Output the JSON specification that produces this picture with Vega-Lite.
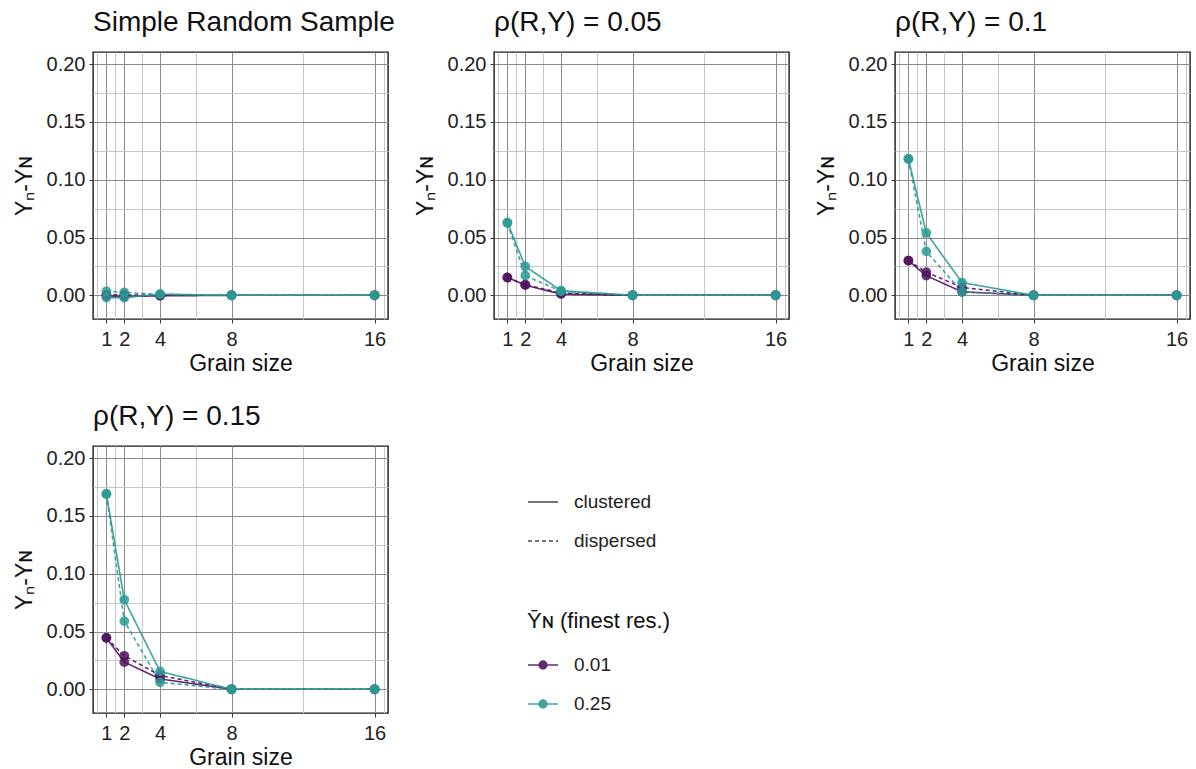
{
"$schema": "https://vega.github.io/schema/vega-lite/v6.json",
"padding": {"left": 12, "top": 8, "right": 0, "bottom": 0},
"background": "white",
"data": {"values": [
{"panel":"SRS","grain":1,"ybar":"0.01","pattern":"clustered","value":-0.0005},
{"panel":"SRS","grain":2,"ybar":"0.01","pattern":"clustered","value":-0.001},
{"panel":"SRS","grain":4,"ybar":"0.01","pattern":"clustered","value":-0.0005},
{"panel":"SRS","grain":8,"ybar":"0.01","pattern":"clustered","value":0},
{"panel":"SRS","grain":16,"ybar":"0.01","pattern":"clustered","value":0},
{"panel":"SRS","grain":1,"ybar":"0.01","pattern":"dispersed","value":0.0005},
{"panel":"SRS","grain":2,"ybar":"0.01","pattern":"dispersed","value":0.0003},
{"panel":"SRS","grain":4,"ybar":"0.01","pattern":"dispersed","value":0.0002},
{"panel":"SRS","grain":8,"ybar":"0.01","pattern":"dispersed","value":0},
{"panel":"SRS","grain":16,"ybar":"0.01","pattern":"dispersed","value":0},
{"panel":"SRS","grain":1,"ybar":"0.25","pattern":"clustered","value":-0.002},
{"panel":"SRS","grain":2,"ybar":"0.25","pattern":"clustered","value":-0.002},
{"panel":"SRS","grain":4,"ybar":"0.25","pattern":"clustered","value":0.001},
{"panel":"SRS","grain":8,"ybar":"0.25","pattern":"clustered","value":0},
{"panel":"SRS","grain":16,"ybar":"0.25","pattern":"clustered","value":0},
{"panel":"SRS","grain":1,"ybar":"0.25","pattern":"dispersed","value":0.0035},
{"panel":"SRS","grain":2,"ybar":"0.25","pattern":"dispersed","value":0.0025},
{"panel":"SRS","grain":4,"ybar":"0.25","pattern":"dispersed","value":0.0008},
{"panel":"SRS","grain":8,"ybar":"0.25","pattern":"dispersed","value":0},
{"panel":"SRS","grain":16,"ybar":"0.25","pattern":"dispersed","value":0},

{"panel":"r05","grain":1,"ybar":"0.01","pattern":"clustered","value":0.0155},
{"panel":"r05","grain":2,"ybar":"0.01","pattern":"clustered","value":0.0088},
{"panel":"r05","grain":4,"ybar":"0.01","pattern":"clustered","value":0.001},
{"panel":"r05","grain":8,"ybar":"0.01","pattern":"clustered","value":0},
{"panel":"r05","grain":16,"ybar":"0.01","pattern":"clustered","value":0},
{"panel":"r05","grain":1,"ybar":"0.01","pattern":"dispersed","value":0.0152},
{"panel":"r05","grain":2,"ybar":"0.01","pattern":"dispersed","value":0.0092},
{"panel":"r05","grain":4,"ybar":"0.01","pattern":"dispersed","value":0.002},
{"panel":"r05","grain":8,"ybar":"0.01","pattern":"dispersed","value":0},
{"panel":"r05","grain":16,"ybar":"0.01","pattern":"dispersed","value":0},
{"panel":"r05","grain":1,"ybar":"0.25","pattern":"clustered","value":0.063},
{"panel":"r05","grain":2,"ybar":"0.25","pattern":"clustered","value":0.025},
{"panel":"r05","grain":4,"ybar":"0.25","pattern":"clustered","value":0.004},
{"panel":"r05","grain":8,"ybar":"0.25","pattern":"clustered","value":0},
{"panel":"r05","grain":16,"ybar":"0.25","pattern":"clustered","value":0},
{"panel":"r05","grain":1,"ybar":"0.25","pattern":"dispersed","value":0.0625},
{"panel":"r05","grain":2,"ybar":"0.25","pattern":"dispersed","value":0.017},
{"panel":"r05","grain":4,"ybar":"0.25","pattern":"dispersed","value":0.0035},
{"panel":"r05","grain":8,"ybar":"0.25","pattern":"dispersed","value":0},
{"panel":"r05","grain":16,"ybar":"0.25","pattern":"dispersed","value":0},

{"panel":"r10","grain":1,"ybar":"0.01","pattern":"clustered","value":0.030},
{"panel":"r10","grain":2,"ybar":"0.01","pattern":"clustered","value":0.017},
{"panel":"r10","grain":4,"ybar":"0.01","pattern":"clustered","value":0.003},
{"panel":"r10","grain":8,"ybar":"0.01","pattern":"clustered","value":0},
{"panel":"r10","grain":16,"ybar":"0.01","pattern":"clustered","value":0},
{"panel":"r10","grain":1,"ybar":"0.01","pattern":"dispersed","value":0.030},
{"panel":"r10","grain":2,"ybar":"0.01","pattern":"dispersed","value":0.020},
{"panel":"r10","grain":4,"ybar":"0.01","pattern":"dispersed","value":0.0068},
{"panel":"r10","grain":8,"ybar":"0.01","pattern":"dispersed","value":0},
{"panel":"r10","grain":16,"ybar":"0.01","pattern":"dispersed","value":0},
{"panel":"r10","grain":1,"ybar":"0.25","pattern":"clustered","value":0.118},
{"panel":"r10","grain":2,"ybar":"0.25","pattern":"clustered","value":0.054},
{"panel":"r10","grain":4,"ybar":"0.25","pattern":"clustered","value":0.011},
{"panel":"r10","grain":8,"ybar":"0.25","pattern":"clustered","value":0},
{"panel":"r10","grain":16,"ybar":"0.25","pattern":"clustered","value":0},
{"panel":"r10","grain":1,"ybar":"0.25","pattern":"dispersed","value":0.118},
{"panel":"r10","grain":2,"ybar":"0.25","pattern":"dispersed","value":0.038},
{"panel":"r10","grain":4,"ybar":"0.25","pattern":"dispersed","value":0.003},
{"panel":"r10","grain":8,"ybar":"0.25","pattern":"dispersed","value":0},
{"panel":"r10","grain":16,"ybar":"0.25","pattern":"dispersed","value":0},

{"panel":"r15","grain":1,"ybar":"0.01","pattern":"clustered","value":0.0445},
{"panel":"r15","grain":2,"ybar":"0.01","pattern":"clustered","value":0.0235},
{"panel":"r15","grain":4,"ybar":"0.01","pattern":"clustered","value":0.009},
{"panel":"r15","grain":8,"ybar":"0.01","pattern":"clustered","value":0},
{"panel":"r15","grain":16,"ybar":"0.01","pattern":"clustered","value":0},
{"panel":"r15","grain":1,"ybar":"0.01","pattern":"dispersed","value":0.0445},
{"panel":"r15","grain":2,"ybar":"0.01","pattern":"dispersed","value":0.029},
{"panel":"r15","grain":4,"ybar":"0.01","pattern":"dispersed","value":0.012},
{"panel":"r15","grain":8,"ybar":"0.01","pattern":"dispersed","value":0},
{"panel":"r15","grain":16,"ybar":"0.01","pattern":"dispersed","value":0},
{"panel":"r15","grain":1,"ybar":"0.25","pattern":"clustered","value":0.169},
{"panel":"r15","grain":2,"ybar":"0.25","pattern":"clustered","value":0.0775},
{"panel":"r15","grain":4,"ybar":"0.25","pattern":"clustered","value":0.0155},
{"panel":"r15","grain":8,"ybar":"0.25","pattern":"clustered","value":0},
{"panel":"r15","grain":16,"ybar":"0.25","pattern":"clustered","value":0},
{"panel":"r15","grain":1,"ybar":"0.25","pattern":"dispersed","value":0.169},
{"panel":"r15","grain":2,"ybar":"0.25","pattern":"dispersed","value":0.059},
{"panel":"r15","grain":4,"ybar":"0.25","pattern":"dispersed","value":0.006},
{"panel":"r15","grain":8,"ybar":"0.25","pattern":"dispersed","value":0},
{"panel":"r15","grain":16,"ybar":"0.25","pattern":"dispersed","value":0}
]},
"columns": 3,
"bounds": "flush",
"spacing": {"row": 127, "column": 106},
"concat": [
{"title": "Simple Random Sample", "width": 295, "height": 267,
 "transform": [{"filter": "datum.panel == 'SRS'"}],
 "encoding": {
  "x": {"field": "grain", "type": "quantitative", "title": "Grain size", "scale": {"domain": [0.25, 16.75], "nice": false, "zero": false},
   "axis": {"values": [0.5,1,1.5,2,3,4,6,8,12,16,16.5], "labelExpr": "indexof([1,2,4,8,16], datum.value) >= 0 ? format(datum.value, 'd') : ''", "labelOverlap": false, "labelFlush": false,
    "gridColor": {"condition": {"test": "indexof([1,2,4,8,16], datum.value) >= 0", "value": "#8a8a8a"}, "value": "#c6c6c6"},
    "tickOpacity": {"condition": {"test": "indexof([1,2,4,8,16], datum.value) >= 0", "value": 1}, "value": 0}}},
  "y": {"field": "value", "type": "quantitative", "title": "Yₙ-Yɴ", "scale": {"domain": [-0.0205, 0.2105], "nice": false, "zero": false},
   "axis": {"values": [0,0.025,0.05,0.075,0.1,0.125,0.15,0.175,0.2], "labelExpr": "abs(datum.value*20 - round(datum.value*20)) < 0.01 ? format(datum.value, '.2f') : ''", "labelOverlap": false, "labelFlush": false,
    "gridColor": {"condition": {"test": "abs(datum.value*20 - round(datum.value*20)) < 0.01", "value": "#8a8a8a"}, "value": "#c6c6c6"},
    "tickOpacity": {"condition": {"test": "abs(datum.value*20 - round(datum.value*20)) < 0.01", "value": 1}, "value": 0}}},
  "color": {"field": "ybar", "type": "nominal"}
 },
 "layer": [
  {"mark": {"type": "line", "strokeWidth": 1.6, "opacity": 0.9}, "encoding": {"strokeDash": {"field": "pattern", "type": "nominal"}, "detail": {"field": "pattern"}}},
  {"mark": {"type": "point", "filled": true, "size": 95, "opacity": 0.85}}
 ]},
{"title": "ρ(R,Y) = 0.05", "width": 295, "height": 267,
 "transform": [{"filter": "datum.panel == 'r05'"}],
 "encoding": {
  "x": {"field": "grain", "type": "quantitative", "title": "Grain size", "scale": {"domain": [0.25, 16.75], "nice": false, "zero": false},
   "axis": {"values": [0.5,1,1.5,2,3,4,6,8,12,16,16.5], "labelExpr": "indexof([1,2,4,8,16], datum.value) >= 0 ? format(datum.value, 'd') : ''", "labelOverlap": false, "labelFlush": false,
    "gridColor": {"condition": {"test": "indexof([1,2,4,8,16], datum.value) >= 0", "value": "#8a8a8a"}, "value": "#c6c6c6"},
    "tickOpacity": {"condition": {"test": "indexof([1,2,4,8,16], datum.value) >= 0", "value": 1}, "value": 0}}},
  "y": {"field": "value", "type": "quantitative", "title": "Yₙ-Yɴ", "scale": {"domain": [-0.0205, 0.2105], "nice": false, "zero": false},
   "axis": {"values": [0,0.025,0.05,0.075,0.1,0.125,0.15,0.175,0.2], "labelExpr": "abs(datum.value*20 - round(datum.value*20)) < 0.01 ? format(datum.value, '.2f') : ''", "labelOverlap": false, "labelFlush": false,
    "gridColor": {"condition": {"test": "abs(datum.value*20 - round(datum.value*20)) < 0.01", "value": "#8a8a8a"}, "value": "#c6c6c6"},
    "tickOpacity": {"condition": {"test": "abs(datum.value*20 - round(datum.value*20)) < 0.01", "value": 1}, "value": 0}}},
  "color": {"field": "ybar", "type": "nominal"}
 },
 "layer": [
  {"mark": {"type": "line", "strokeWidth": 1.6, "opacity": 0.9}, "encoding": {"strokeDash": {"field": "pattern", "type": "nominal"}, "detail": {"field": "pattern"}}},
  {"mark": {"type": "point", "filled": true, "size": 95, "opacity": 0.85}}
 ]},
{"title": "ρ(R,Y) = 0.1", "width": 295, "height": 267,
 "transform": [{"filter": "datum.panel == 'r10'"}],
 "encoding": {
  "x": {"field": "grain", "type": "quantitative", "title": "Grain size", "scale": {"domain": [0.25, 16.75], "nice": false, "zero": false},
   "axis": {"values": [0.5,1,1.5,2,3,4,6,8,12,16,16.5], "labelExpr": "indexof([1,2,4,8,16], datum.value) >= 0 ? format(datum.value, 'd') : ''", "labelOverlap": false, "labelFlush": false,
    "gridColor": {"condition": {"test": "indexof([1,2,4,8,16], datum.value) >= 0", "value": "#8a8a8a"}, "value": "#c6c6c6"},
    "tickOpacity": {"condition": {"test": "indexof([1,2,4,8,16], datum.value) >= 0", "value": 1}, "value": 0}}},
  "y": {"field": "value", "type": "quantitative", "title": "Yₙ-Yɴ", "scale": {"domain": [-0.0205, 0.2105], "nice": false, "zero": false},
   "axis": {"values": [0,0.025,0.05,0.075,0.1,0.125,0.15,0.175,0.2], "labelExpr": "abs(datum.value*20 - round(datum.value*20)) < 0.01 ? format(datum.value, '.2f') : ''", "labelOverlap": false, "labelFlush": false,
    "gridColor": {"condition": {"test": "abs(datum.value*20 - round(datum.value*20)) < 0.01", "value": "#8a8a8a"}, "value": "#c6c6c6"},
    "tickOpacity": {"condition": {"test": "abs(datum.value*20 - round(datum.value*20)) < 0.01", "value": 1}, "value": 0}}},
  "color": {"field": "ybar", "type": "nominal"}
 },
 "layer": [
  {"mark": {"type": "line", "strokeWidth": 1.6, "opacity": 0.9}, "encoding": {"strokeDash": {"field": "pattern", "type": "nominal"}, "detail": {"field": "pattern"}}},
  {"mark": {"type": "point", "filled": true, "size": 95, "opacity": 0.85}}
 ]},
{"title": "ρ(R,Y) = 0.15", "width": 295, "height": 267,
 "transform": [{"filter": "datum.panel == 'r15'"}],
 "encoding": {
  "x": {"field": "grain", "type": "quantitative", "title": "Grain size", "scale": {"domain": [0.25, 16.75], "nice": false, "zero": false},
   "axis": {"values": [0.5,1,1.5,2,3,4,6,8,12,16,16.5], "labelExpr": "indexof([1,2,4,8,16], datum.value) >= 0 ? format(datum.value, 'd') : ''", "labelOverlap": false, "labelFlush": false,
    "gridColor": {"condition": {"test": "indexof([1,2,4,8,16], datum.value) >= 0", "value": "#8a8a8a"}, "value": "#c6c6c6"},
    "tickOpacity": {"condition": {"test": "indexof([1,2,4,8,16], datum.value) >= 0", "value": 1}, "value": 0}}},
  "y": {"field": "value", "type": "quantitative", "title": "Yₙ-Yɴ", "scale": {"domain": [-0.0205, 0.2105], "nice": false, "zero": false},
   "axis": {"values": [0,0.025,0.05,0.075,0.1,0.125,0.15,0.175,0.2], "labelExpr": "abs(datum.value*20 - round(datum.value*20)) < 0.01 ? format(datum.value, '.2f') : ''", "labelOverlap": false, "labelFlush": false,
    "gridColor": {"condition": {"test": "abs(datum.value*20 - round(datum.value*20)) < 0.01", "value": "#8a8a8a"}, "value": "#c6c6c6"},
    "tickOpacity": {"condition": {"test": "abs(datum.value*20 - round(datum.value*20)) < 0.01", "value": 1}, "value": 0}}},
  "color": {"field": "ybar", "type": "nominal", "title": "Ȳɴ (finest res.)",
   "scale": {"domain": ["0.01", "0.25"], "range": ["#50145f", "#2a9a94"]},
   "legend": {"orient": "none", "legendX": 434, "legendY": 559, "symbolType": "M-1,0L1,0M-0.26,0A0.26,0.26,0,1,0,0.26,0A0.26,0.26,0,1,0,-0.26,0Z", "symbolSize": 900, "symbolStrokeWidth": 1.5, "titlePadding": 16, "rowPadding": 13,
    "encode": {"symbols": {"update": {"stroke": {"scale": "color", "field": "value"}, "fill": {"scale": "color", "field": "value"}, "opacity": {"value": 0.85}}}}}}
 },
 "layer": [
  {"mark": {"type": "line", "strokeWidth": 1.6, "opacity": 0.9}, "encoding": {"strokeDash": {"field": "pattern", "type": "nominal", "title": null,
    "scale": {"domain": ["clustered", "dispersed"], "range": [[1, 0], [4, 3]]},
    "legend": {"orient": "none", "legendX": 434, "legendY": 434, "symbolType": "stroke", "symbolSize": 900, "symbolStrokeColor": "#333", "symbolStrokeWidth": 1.5, "rowPadding": 13}}, "detail": {"field": "pattern"}}},
  {"mark": {"type": "point", "filled": true, "size": 95, "opacity": 0.85}}
 ]}
],
"config": {
 "font": "Liberation Sans",
 "view": {"stroke": "#1a1a1a", "strokeWidth": 1.4},
 "title": {"anchor": "start", "frame": "group", "fontSize": 28, "fontWeight": "normal", "color": "#111", "offset": 15, "font": "Liberation Sans"},
 "axis": {"labelFont": "Liberation Sans", "labelFontSize": 20, "labelColor": "#222", "titleFont": "Liberation Sans", "titleFontSize": 23, "titleFontWeight": "normal", "titleColor": "#111", "tickColor": "#333", "tickSize": 4, "domain": false, "grid": true, "gridWidth": 1},
 "axisX": {"labelPadding": 6, "titlePadding": 3},
 "axisY": {"labelPadding": 4, "titlePadding": 10},
 "legend": {"labelFont": "Liberation Sans", "labelFontSize": 19, "labelColor": "#222", "titleFont": "Liberation Sans", "titleFontSize": 22, "titleFontWeight": "normal", "titleColor": "#111", "labelOffset": 15, "padding": 0}
}
}
